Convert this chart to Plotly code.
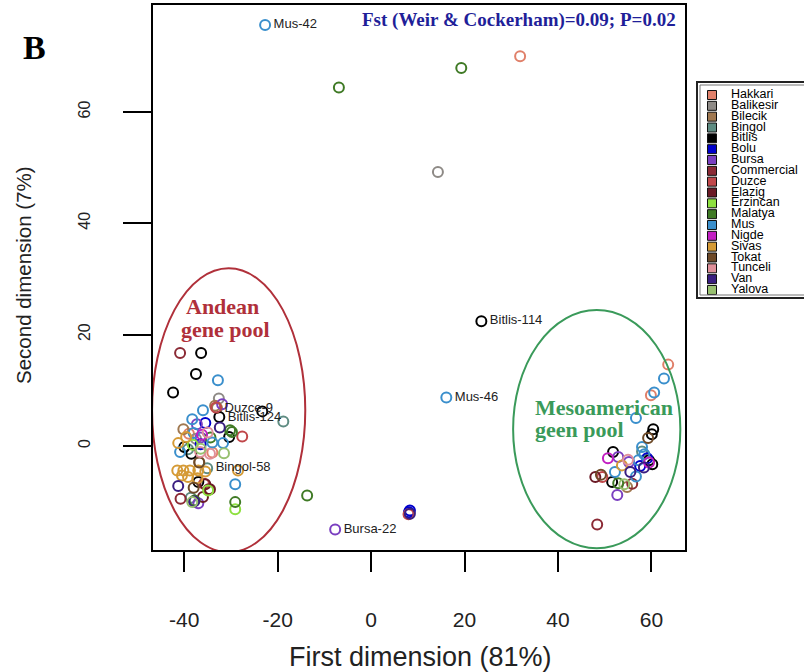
import plotly.graph_objects as go

# ---------------- data ----------------
groups = ["Hakkari", "Balikesir", "Bilecik", "Bingol", "Bitlis", "Bolu", "Bursa",
          "Commercial", "Duzce", "Elazig", "Erzincan", "Malatya", "Mus", "Nigde",
          "Sivas", "Tokat", "Tunceli", "Van", "Yalova"]
colors = ["#E0806A", "#8E8A86", "#A07850", "#5E8C82", "#000000", "#0000CC", "#7A3FC0",
          "#8B2A35", "#C0474A", "#6A1A25", "#8EE040", "#3F7A25", "#3A8FCC", "#C21FC2",
          "#D59A35", "#6E4A28", "#E0909A", "#3A1E80", "#98C070"]

hakkari_x = [31.9, 63.6, 59.9, -39.0, -34.0]
hakkari_y = [70.0, 14.6, 9.1, 2.2, -1.2]
balikesir_x = [14.3, -32.6, -37.5]
balikesir_y = [49.2, 8.5, 1.3]
bilecik_x = [-33.0, -40.2, -36.8, 54.8, -33.4]
bilecik_y = [6.8, 3.0, -2.9, -7.4, 7.2]
bingol_x = [-18.8, -35.1, -39.2, -38.6, 58.0]
bingol_y = [4.4, -4.0, -0.6, -9.3, -1.0]
bitlis_x = [23.6, -36.4, -37.5, -42.4, -32.5, -23.3, -30.4, -40.0, -37.0, -38.5,
            60.4, 60.1, 51.8, 60.2, 51.6, 59.5]
bitlis_y = [22.4, 16.7, 12.9, 9.6, 5.2, 6.2, 1.6, -0.2, -6.5, -1.4,
            3.0, 2.1, -1.1, -3.3, -6.5, -2.6]
bolu_x = [8.1, 8.3, -35.5, 59.1, 57.6, -36.5]
bolu_y = [-11.9, -11.6, 4.1, -2.2, -3.6, 0.3]
bursa_x = [-7.7, -31.9, -37.3, 52.9, 55.2, 52.7, -36.5, -37.0]
bursa_y = [-15.0, 7.5, 3.9, -2.0, -2.9, -8.8, 1.5, -10.3]
commercial_x = [-40.9, 48.4, -34.8, 55.9, -40.8]
commercial_y = [16.7, -14.1, -7.8, -6.8, -9.5]
duzce_x = [-33.2, -27.6, 8.0, 49.5, -35.8]
duzce_y = [6.9, 1.7, -12.3, -5.6, -6.8]
elazig_x = [-35.5, -34.5, 48.0, -36.0]
elazig_y = [-6.9, -7.8, -5.6, -9.2]
erzincan_x = [-34.9, -29.1, -38.2]
erzincan_y = [-8.0, -11.4, 0.2]
malatya_x = [19.3, -6.9, -13.7, -30.2, -29.1, -37.8, 52.9, -34.4, -29.8]
malatya_y = [67.9, 64.4, -8.9, 2.8, -10.1, -9.8, -6.7, 1.5, 2.5]
mus_x = [-22.7, 16.1, -32.8, -36.0, -38.3, -31.7, -40.9, -29.1, -38.0, -34.0,
         62.7, 60.6, 56.7, 58.0, 52.2, 57.2, 58.5, 56.7]
mus_y = [75.6, 8.7, 11.8, 6.4, 4.8, 0.5, -1.1, -6.9, 2.3, 0.6,
         12.1, 9.6, 5.0, -0.2, -4.7, -2.6, -1.5, -5.5]
nigde_x = [50.7, 59.5, -36.2]
nigde_y = [-2.2, -3.0, 2.0]
sivas_x = [-41.5, -40.2, -38.8, -37.0, -40.5, -39.2, -37.2, -35.5, -41.3, -39.6, -28.5, 53.7]
sivas_y = [-4.4, -4.4, -4.4, -4.4, -5.3, -5.6, -5.8, -4.6, 0.5, 1.6, -4.4, -3.5]
tokat_x = [59.3, -36.8, 49.2, -38.0]
tokat_y = [1.4, -3.0, -5.2, -7.5]
tunceli_x = [-36.6, -34.5, 55.0, -35.0]
tunceli_y = [-1.1, -1.4, -2.5, 2.4]
van_x = [-41.3, 8.3, 55.5, 58.4, -37.9, -32.4]
van_y = [-7.2, -12.2, -4.7, -3.9, -10.0, 3.3]
yalova_x = [-38.3, -31.5, 54.2, -36.5]
yalova_y = [-10.1, -1.3, -6.9, -0.5]

group_x = [hakkari_x, balikesir_x, bilecik_x, bingol_x, bitlis_x, bolu_x, bursa_x,
           commercial_x, duzce_x, elazig_x, erzincan_x, malatya_x, mus_x, nigde_x,
           sivas_x, tokat_x, tunceli_x, van_x, yalova_x]
group_y = [hakkari_y, balikesir_y, bilecik_y, bingol_y, bitlis_y, bolu_y, bursa_y,
           commercial_y, duzce_y, elazig_y, erzincan_y, malatya_y, mus_y, nigde_y,
           sivas_y, tokat_y, tunceli_y, van_y, yalova_y]

label_text = ["Mus-42", "Mus-46", "Bitlis-114", "Bursa-22", "Bingol-58", "Duzce-9", "Bitlis-124"]
label_x = [-22.7, 16.1, 23.6, -7.7, -35.1, -33.2, -32.5]
label_y = [75.6, 8.7, 22.4, -15.0, -4.0, 6.7, 5.0]

x_ticks = [-40, -20, 0, 20, 40, 60]
x_ticktext = ["-40", "-20", "0", "20", "40", "60"]
y_ticks = [0, 20, 40, 60]
y_ticktext = ["0", "20", "40", "60"]

# ---------------- figure ----------------
W, H = 804, 672
ML, MR, MT, MB = 153, 0, 5, 122
PW = W - ML - MR
PH = H - MT - MB

def px2paper_x(px):
    return (px - ML) / PW

def px2paper_y(py):
    return (H - MB - py) / PH

def py2data(py):
    return (445.7 - py) / 5.567

def px2data(px):
    return (px - 371) / 4.67

fig = go.Figure()

for g, c, xs, ys in zip(groups, colors, group_x, group_y):
    fig.add_trace(go.Scatter(
        x=xs, y=ys, mode="markers", name=g, showlegend=False,
        marker=dict(symbol="circle-open", size=10, color=c, line=dict(width=2, color=c)),
        xaxis="x", yaxis="y"))

fig.add_trace(go.Scatter(
    x=label_x, y=label_y, mode="markers+text", text=label_text,
    textposition="middle right", showlegend=False, hoverinfo="skip",
    marker=dict(size=12, opacity=0),
    textfont=dict(family="Liberation Sans", size=13, color="#222222"),
    xaxis="x", yaxis="y", cliponaxis=False))

# legend panel drawn as a scatter on its own axes
leg_idx = list(range(len(groups)))
fig.add_trace(go.Scatter(
    x=[15] * len(groups), y=leg_idx, mode="markers", showlegend=False, hoverinfo="skip",
    marker=dict(symbol="square", size=9, color=colors, line=dict(width=1, color="#111111")),
    xaxis="x2", yaxis="y2", cliponaxis=False))
fig.add_trace(go.Scatter(
    x=[34] * len(groups), y=leg_idx, mode="text", text=groups, showlegend=False,
    textposition="middle right", hoverinfo="skip",
    textfont=dict(family="Liberation Sans", size=12.5, color="#000000"),
    xaxis="x2", yaxis="y2", cliponaxis=False))

x_dom_end = px2paper_x(685)
leg_left = px2paper_x(697)
leg_top = px2paper_y(82)
leg_bot = px2paper_y(298)

fig.update_layout(
    width=W, height=H,
    margin=dict(l=ML, r=MR, t=MT, b=MB),
    paper_bgcolor="white", plot_bgcolor="white",
    xaxis=dict(domain=[0, x_dom_end], range=[-46.7, 67.2], tickvals=x_ticks,
               ticktext=x_ticktext,
               ticks="outside", ticklen=20, tickwidth=2, tickcolor="black",
               showline=True, mirror=True, linewidth=2, linecolor="black",
               showgrid=False, zeroline=False, ticklabelstandoff=30,
               tickfont=dict(family="Liberation Sans", size=21, color="#222222")),
    yaxis=dict(domain=[0, 1], range=[-18.7, 79.2], tickvals=y_ticks,
               ticktext=y_ticktext,
               ticks="outside", ticklen=28, tickwidth=2, tickcolor="black",
               showline=True, mirror=True, linewidth=2, linecolor="black",
               showgrid=False, zeroline=False, tickangle=-90, ticklabelstandoff=27,
               tickfont=dict(family="Liberation Sans", size=16, color="#222222")),
    xaxis2=dict(domain=[leg_left, 1], range=[0, W - 697], visible=False,
                anchor="y2", fixedrange=True),
    yaxis2=dict(domain=[leg_bot, leg_top], range=[18.74, -1.2], visible=False,
                anchor="x2", fixedrange=True),
)

shapes = [
    dict(type="circle", xref="x", yref="y", x0=-46.9, x1=-14.1, y0=-19.1, y1=31.9,
         line=dict(color="#B0303A", width=2)),
    dict(type="circle", xref="x", yref="y", x0=30.4, x1=66.2, y0=-18.4, y1=24.4,
         line=dict(color="#3A9A5A", width=2)),
    dict(type="rect", xref="paper", yref="paper", x0=leg_left, x1=1.05,
         y0=leg_bot, y1=leg_top, line=dict(color="#222222", width=2)),
    dict(type="rect", xref="paper", yref="paper", x0=px2paper_x(700), x1=1.05,
         y0=px2paper_y(295), y1=px2paper_y(85), line=dict(color="#777777", width=1)),
]
fig.update_layout(shapes=shapes)

annotations = [
    dict(text="<b>B</b>", xref="paper", yref="paper", x=px2paper_x(34), y=px2paper_y(47),
         xanchor="center", yanchor="middle", showarrow=False,
         font=dict(family="Liberation Serif", size=34, color="black")),
    dict(text="<b>Fst (Weir &amp; Cockerham)=0.09; P=0.02</b>", xref="paper", yref="paper",
         x=px2paper_x(678), y=px2paper_y(20), xanchor="right", yanchor="middle",
         showarrow=False,
         font=dict(family="Liberation Serif", size=19, color="#1F1F99")),
    dict(text="First dimension (81%)", xref="paper", yref="paper",
         x=px2paper_x(420), y=px2paper_y(657), xanchor="center", yanchor="middle",
         showarrow=False,
         font=dict(family="Liberation Sans", size=27, color="#222222")),
    dict(text="Second dimension (7%)", xref="paper", yref="paper", textangle=-90,
         x=px2paper_x(23), y=px2paper_y(275), xanchor="center", yanchor="middle",
         showarrow=False,
         font=dict(family="Liberation Sans", size=20.5, color="#222222")),
    dict(text="<b>Andean</b>", xref="x", yref="y", x=px2data(222), y=py2data(306),
         xanchor="center", yanchor="middle", showarrow=False,
         font=dict(family="Liberation Serif", size=22, color="#B0303A")),
    dict(text="<b>gene pool</b>", xref="x", yref="y", x=px2data(225), y=py2data(329),
         xanchor="center", yanchor="middle", showarrow=False,
         font=dict(family="Liberation Serif", size=22, color="#B0303A")),
    dict(text="<b>Mesoamerican</b>", xref="x", yref="y", x=px2data(533), y=py2data(407),
         xanchor="left", yanchor="middle", showarrow=False,
         font=dict(family="Liberation Serif", size=22, color="#3A9A5A")),
    dict(text="<b>geen pool</b>", xref="x", yref="y", x=px2data(533), y=py2data(429),
         xanchor="left", yanchor="middle", showarrow=False,
         font=dict(family="Liberation Serif", size=22, color="#3A9A5A")),
]
fig.update_layout(annotations=annotations)

fig.write_html("out.html", config={"displayModeBar": False},
               post_script="document.body.style.margin='0px';")
